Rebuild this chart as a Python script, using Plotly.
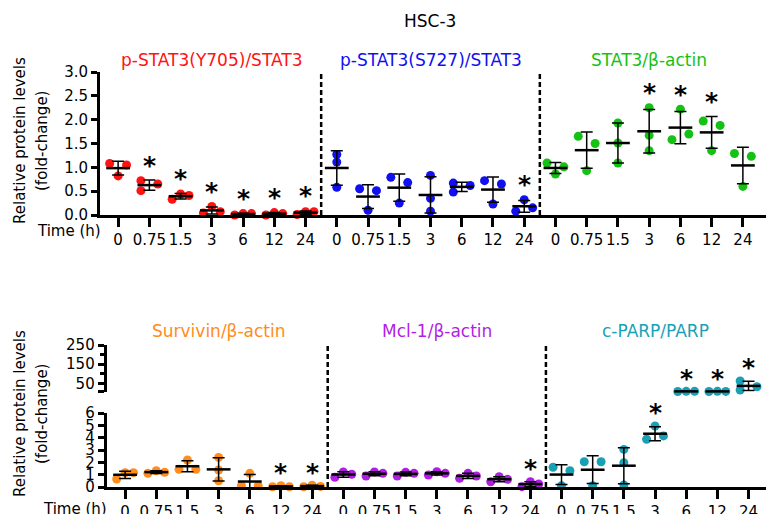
import numpy as np
import plotly.graph_objects as go

# ---------------- data ----------------
times = ["0", "0.75", "1.5", "3", "6", "12", "24"]
cell_line = "HSC-3"

# top row
y705_vals = [[1.08, 0.82, 1.05], [0.72, 0.51, 0.65], [0.33, 0.44, 0.41], [0.04, 0.18, 0.07],
             [0.00, 0.03, 0.03], [0.00, 0.05, 0.03], [0.01, 0.07, 0.07]]
y705_spread = [[-1, 0, 1], [-1, -1, 1], [-1, 0, 1], [-1, 0, 1], [-1, 0, 1], [-1, 0, 1], [-1, 0, 1]]
y705_sig = [0, 1, 1, 1, 1, 1, 1]

s727_vals = [[1.27, 1.11, 0.58], [0.55, 0.51, 0.10], [0.79, 0.68, 0.25], [0.83, 0.35, 0.08],
             [0.67, 0.48, 0.62], [0.72, 0.65, 0.23], [0.08, 0.32, 0.15]]
s727_spread = [[0, 0, 0], [-1, 1, 0], [-1, 1, 0], [0, 0, 0], [-1, -1, 1], [-1, 1, 0], [-1, 0, 1]]
s727_sig = [0, 0, 0, 0, 0, 0, 1]

stat3_vals = [[1.09, 0.86, 1.01], [1.65, 1.50, 0.93], [1.93, 1.51, 1.09], [2.25, 1.67, 1.35],
              [2.22, 1.58, 1.70], [1.97, 1.88, 1.35], [1.29, 1.23, 0.60]]
stat3_spread = [[-1, 0, 1], [-1, 1, 0], [0, 0, 0], [0, 0, 0], [0, -1, 1], [-1, 1, 0], [-1, 1, 0]]
stat3_sig = [0, 0, 0, 1, 1, 1, 0]

# bottom row
survivin_vals = [[0.65, 1.16, 1.16], [1.11, 1.32, 1.19], [1.43, 2.19, 1.43], [2.40, 1.38, 0.51],
                 [0.11, 1.11, 0.11], [0.02, 0.10, 0.02], [0.02, 0.15, 0.05]]
survivin_spread = [[-1, 0, 1], [-1, 0, 1], [-1, 0, 1], [0, 0, 0], [-1, 0, 1], [-1, 0, 1], [-1, 0, 1]]
survivin_sig = [0, 0, 0, 0, 0, 1, 1]

mcl1_vals = [[0.79, 1.22, 1.03], [0.89, 1.22, 1.11], [0.89, 1.19, 1.11], [0.97, 1.24, 1.11],
             [0.70, 1.11, 0.89], [0.43, 0.84, 0.62], [0.03, 0.43, 0.24]]
mcl1_spread = [[-1, 0, 1]] * 7
mcl1_sig = [0, 0, 0, 0, 0, 0, 1]

cparp_vals = [[1.60, 1.32, 0.10], [2.05, 2.05, 0.10], [3.05, 1.97, 0.16], [4.95, 3.87, 4.14],
              [7.0, 8.0, 8.0], [7.0, 8.0, 7.5], [62.0, 15.0, 32.0]]
cparp_spread = [[-1, 1, 0], [-1, 1, 0], [0, 0, 0], [0, -1, 1], [-1, 0, 1], [-1, 0, 1], [-1, -1, 1]]
cparp_sig = [0, 0, 0, 1, 1, 1, 1]

top_ticks = [0.0, 0.5, 1.0, 1.5, 2.0, 2.5, 3.0]
low_ticks = [0, 1, 2, 3, 4, 5, 6]
high_ticks = [50, 150, 250]
high_minor = [100, 200]
axis_break = 6

# ---------------- styling ----------------
W, H = 766, 514
FONT = "DejaVu Sans"
TICK_FS = 15
TITLE_FS = 17
JIT = 0.27


def py(p):
    return 1 - p / H


panels = [
    dict(title="p-STAT3(Y705)/STAT3", color="#ff1212", vals=y705_vals, spread=y705_spread, sig=y705_sig, row=0, slot=0),
    dict(title="p-STAT3(S727)/STAT3", color="#1010f0", vals=s727_vals, spread=s727_spread, sig=s727_sig, row=0, slot=1),
    dict(title="STAT3/β-actin", color="#14c214", vals=stat3_vals, spread=stat3_spread, sig=stat3_sig, row=0, slot=2),
    dict(title="Survivin/β-actin", color="#ff8c1c", vals=survivin_vals, spread=survivin_spread, sig=survivin_sig, row=1, slot=0),
    dict(title="Mcl-1/β-actin", color="#b01ee6", vals=mcl1_vals, spread=mcl1_spread, sig=mcl1_sig, row=1, slot=1),
    dict(title="c-PARP/PARP", color="#1aa0b6", vals=cparp_vals, spread=cparp_spread, sig=cparp_sig, row=1, slot=2),
]

fig = go.Figure()
annotations = []
n = len(times)


def ann(**kw):
    base = dict(showarrow=False, xanchor="center", yanchor="middle")
    base.update(kw)
    annotations.append(base)


for p in panels:
    row = p["row"]
    xa = "x" if row == 0 else "x2"

    def yaxis_for(v):
        if row == 0:
            return "y"
        return "y3" if v > axis_break else "y2"

    # points
    groups = {}
    for i, (vals, spr) in enumerate(zip(p["vals"], p["spread"])):
        for v, s in zip(vals, spr):
            ya = yaxis_for(v)
            g = groups.setdefault(ya, ([], []))
            g[0].append(p["slot"] * n + i + s * JIT)
            g[1].append(v)
    for ya, (xs, ys) in groups.items():
        fig.add_trace(go.Scatter(x=xs, y=ys, xaxis=xa, yaxis=ya, mode="markers",
                                 marker=dict(size=9, color=p["color"], line=dict(width=0)),
                                 cliponaxis=False, showlegend=False, hoverinfo="skip"))

    # mean +/- SD
    mgroups = {}
    for i, vals in enumerate(p["vals"]):
        arr = np.array(vals, dtype=float)
        m = arr.mean()
        sd = arr.std(ddof=1)
        ya = yaxis_for(m)
        g = mgroups.setdefault(ya, ([], [], []))
        g[0].append(p["slot"] * n + i)
        g[1].append(m)
        g[2].append(sd)
        if p["sig"][i]:
            top = max(arr.max(), m + sd)
            ann(x=p["slot"] * n + i, y=top, xref=xa, yref=yaxis_for(top), text="<b>*</b>",
                yshift=15 if row == 0 else 13,
                font=dict(family=FONT, size=25, color="black"))
    for ya, (xs, ms, sds) in mgroups.items():
        fig.add_trace(go.Scatter(x=xs, y=ms, xaxis=xa, yaxis=ya, mode="markers",
                                 marker=dict(symbol="line-ew", size=17, color="black",
                                             line=dict(color="black", width=2.5)),
                                 error_y=dict(type="data", array=sds, visible=True, color="black",
                                              thickness=1.5, width=6),
                                 cliponaxis=False, showlegend=False, hoverinfo="skip"))

    # panel title
    ann(x=p["slot"] * n + (n - 1) / 2, y=py(60) if row == 0 else py(331),
        xref=xa, yref="paper", text=p["title"],
        font=dict(family=FONT, size=TITLE_FS, color=p["color"]))

# separators
shapes = []
for k in (1, 2):
    xs = k * n - 0.5
    shapes.append(dict(type="line", xref="x", yref="paper", x0=xs, x1=xs, y0=py(215), y1=py(72),
                       line=dict(color="black", width=2.5, dash="5px,3px")))
    shapes.append(dict(type="line", xref="x2", yref="paper", x0=xs, x1=xs, y0=py(487), y1=py(343),
                       line=dict(color="black", width=2.5, dash="5px,3px")))

# overall title, y titles, time labels
ann(x=430 / W, y=py(21), xref="paper", yref="paper", text=cell_line,
    font=dict(family=FONT, size=TITLE_FS, color="black"))
for yc in (141, 414):
    ann(x=20 / W, y=py(yc), xref="paper", yref="paper", text="Relative protein levels",
        textangle=-90, font=dict(family=FONT, size=TICK_FS, color="black"))
    ann(x=42 / W, y=py(yc), xref="paper", yref="paper", text="(fold-change)",
        textangle=-90, font=dict(family=FONT, size=TICK_FS, color="black"))
ann(x=103 / W, y=py(231), xref="paper", yref="paper", text="Time (h)", xanchor="right",
    font=dict(family=FONT, size=TICK_FS, color="black"))
ann(x=109 / W, y=py(509), xref="paper", yref="paper", text="Time (h)", xanchor="right",
    font=dict(family=FONT, size=TICK_FS, color="black"))

axis_common = dict(showgrid=False, zeroline=False, showline=True, linecolor="black", linewidth=3,
                   ticks="outside", tickcolor="black", tickfont=dict(family=FONT, size=TICK_FS, color="black"),
                   fixedrange=True, automargin=False)
xt = list(range(3 * n))
xl = times * 3

fig.update_layout(
    width=W, height=H, margin=dict(l=0, r=0, t=0, b=0, autoexpand=False),
    paper_bgcolor="white", plot_bgcolor="white", showlegend=False,
    xaxis=dict(domain=[100 / W, 1], range=[-0.58, 20.74], anchor="y", tickvals=xt, ticktext=xl,
               ticklen=9, tickwidth=3, **axis_common),
    yaxis=dict(domain=[py(215), py(72)], range=[0, 3], anchor="x", tickvals=top_ticks,
               ticktext=[f"{v:.1f}" for v in top_ticks], ticklen=6, tickwidth=3, **axis_common),
    xaxis2=dict(domain=[106.7 / W, 1], range=[-0.59, 20.56], anchor="y2", tickvals=xt, ticktext=xl,
                ticklen=9, tickwidth=3, **axis_common),
    yaxis2=dict(domain=[py(487), py(413)], range=[0, axis_break], anchor="x2", tickvals=low_ticks,
                ticktext=[str(v) for v in low_ticks], ticklen=6, tickwidth=3, **axis_common),
    yaxis3=dict(domain=[py(391.7), py(345)], range=[axis_break, 250], anchor="x2",
                tickvals=[axis_break] + high_ticks, ticktext=[""] + [str(v) for v in high_ticks],
                ticklen=6, tickwidth=3,
                minor=dict(tickvals=high_minor, ticks="outside", ticklen=4, tickwidth=2.5, tickcolor="black"),
                **axis_common),
    annotations=annotations, shapes=shapes,
)

fig.write_html("out.html", config={"displayModeBar": False},
               post_script="document.body.style.margin='0';document.body.style.padding='0';")
